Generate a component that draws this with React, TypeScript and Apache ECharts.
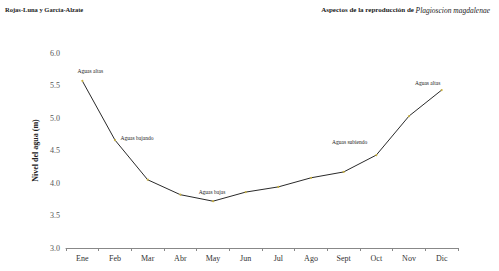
import React, { useEffect, useRef } from "react";
import * as echarts from "echarts";

const months = ["Ene", "Feb", "Mar", "Abr", "May", "Jun", "Jul", "Ago", "Sept", "Oct", "Nov", "Dic"];
const levels = [5.57, 4.66, 4.05, 3.82, 3.72, 3.86, 3.94, 4.08, 4.17, 4.43, 5.03, 5.43];
const notes: (string | null)[] = ["Aguas altas", "Aguas bajando", null, null, "Aguas bajas", null, null, null, "Aguas subiendo", null, null, "Aguas altas"];
const noteOffsets: [number, number][] = [[8, -1], [22, 7], [0, 0], [0, 0], [-1, 0], [0, 0], [0, 0], [0, 0], [6, -21], [0, 0], [0, 0], [-14, 2]];
const yTicks = { min: 3, max: 6, interval: 0.5 };

export default function App() {
  const ref = useRef<HTMLDivElement>(null);
  useEffect(() => {
    document.body.style.margin = "0";
    const chart = echarts.init(ref.current!, null, { renderer: "svg" });
    const font = "Liberation Serif";
    chart.setOption({
      animation: false,
      backgroundColor: "#ffffff",
      textStyle: { fontFamily: font },
      grid: { left: 66, right: 41, top: 53, bottom: 23 },
      graphic: [
        { type: "text", left: 5, top: 6, style: { text: "Rojas-Luna y García-Alzate", font: `bold 6.5px "${font}"`, fill: "#222" } },
        {
          type: "text", right: 9, top: 6,
          style: {
            text: "{a|Aspectos de la reproducción de }{b|Plagioscion magdalenae}",
            rich: {
              a: { fontFamily: font, fontSize: 7, fontWeight: "bold", fill: "#222", color: "#222" },
              b: { fontFamily: font, fontSize: 7.5, fontStyle: "italic", fontWeight: "normal", fill: "#222", color: "#222" },
            },
          },
        },
      ],
      xAxis: {
        type: "category",
        data: months,
        boundaryGap: true,
        axisLine: { lineStyle: { color: "#888", width: 1 } },
        axisTick: { show: true, length: 3, lineStyle: { color: "#888" } },
        axisLabel: { color: "#333", fontSize: 8, fontFamily: font, margin: 6 },
      },
      yAxis: {
        type: "value",
        min: yTicks.min,
        max: yTicks.max,
        interval: yTicks.interval,
        name: "Nivel del agua (m)",
        nameLocation: "middle",
        nameGap: 25,
        nameTextStyle: { color: "#222", fontSize: 8, fontWeight: "bold", fontFamily: font },
        axisLine: { show: false },
        axisTick: { show: false },
        splitLine: { show: false },
        axisLabel: { color: "#555", fontSize: 8, fontFamily: font, margin: 6, formatter: (v: number) => v.toFixed(1) },
      },
      series: [
        {
          type: "line",
          data: levels.map((v, i) => {
            const n = notes[i];
            return n
              ? {
                  value: v,
                  label: {
                    show: true,
                    formatter: n,
                    position: "top",
                    offset: noteOffsets[i],
                    fontSize: 5.5,
                    color: "#222",
                    fontFamily: font,
                  },
                }
              : v;
          }),
          showSymbol: true,
          symbol: "circle",
          symbolSize: 2,
          itemStyle: { color: "#c8b040" },
          lineStyle: { color: "#2a2a2a", width: 1 },
        },
      ],
    });
    return () => chart.dispose();
  }, []);
  return <div ref={ref} style={{ width: 499, height: 271 }} />;
}
